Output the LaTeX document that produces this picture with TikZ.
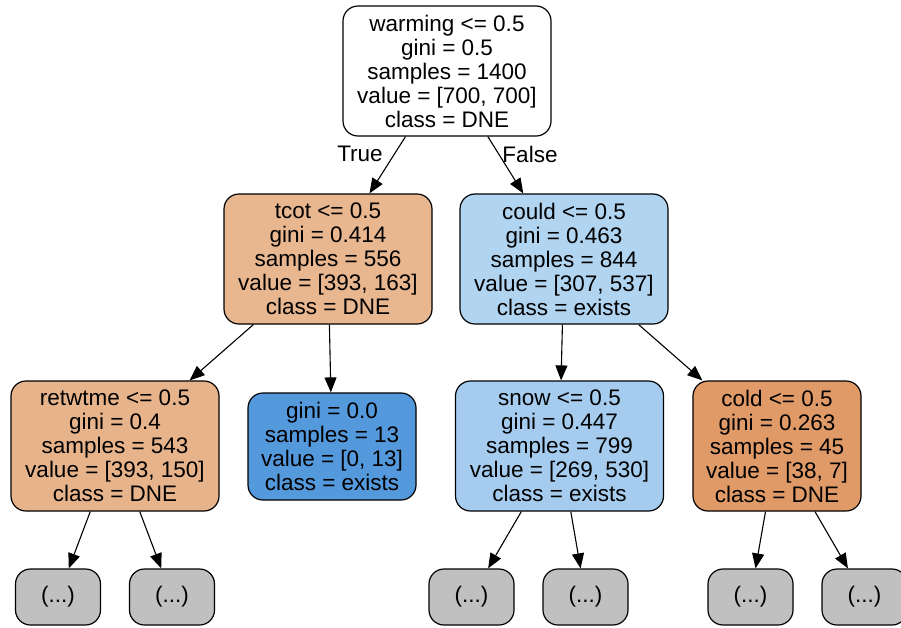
\documentclass[tikz,border=0pt]{standalone}
\usepackage{fontspec}
\setmainfont{Liberation Sans}
\usetikzlibrary{arrows.meta}
\definecolor{dneA}{HTML}{E8B68F}
\definecolor{dneB}{HTML}{E7B38B}
\definecolor{dneC}{HTML}{E09A68}
\definecolor{exA}{HTML}{B1D4F1}
\definecolor{exB}{HTML}{A5CCEF}
\definecolor{exC}{HTML}{5599DD}
\definecolor{leafgray}{HTML}{C0C0C0}
\begin{document}
\begin{tikzpicture}[x=1pt,y=-1pt,
  tnode/.style={draw=black,line width=1.2pt,rounded corners=15pt,align=center,inner sep=0pt,
    font=\fontsize{22.5}{24}\selectfont, minimum height=130pt, minimum width=208pt},
  smallnode/.style={tnode,minimum height=107pt,minimum width=168pt},
  leafnode/.style={tnode,fill=leafgray,minimum height=56pt,minimum width=85pt},
  edge/.style={line width=1.1pt,-{Triangle[length=15pt,width=12pt]}},
  elabel/.style={font=\fontsize{22.5}{24}\selectfont}]
\fill[white] (0,0) rectangle (901,627);
\useasboundingbox (0,0) rectangle (901,627);
\node[tnode,fill=white] (root) at (447,71) {warming <= 0.5\\gini = 0.5\\samples = 1400\\value = [700, 700]\\class = DNE};
\node[tnode,fill=dneA] (tcot) at (328,259) {tcot <= 0.5\\gini = 0.414\\samples = 556\\value = [393, 163]\\class = DNE};
\node[tnode,fill=exA] (could) at (564,259) {could <= 0.5\\gini = 0.463\\samples = 844\\value = [307, 537]\\class = exists};
\node[tnode,fill=dneB] (retw) at (115,446) {retwtme <= 0.5\\gini = 0.4\\samples = 543\\value = [393, 150]\\class = DNE};
\node[smallnode,fill=exC] (pure) at (332,446.5) {gini = 0.0\\samples = 13\\value = [0, 13]\\class = exists};
\node[tnode,fill=exB] (snow) at (559.5,446) {snow <= 0.5\\gini = 0.447\\samples = 799\\value = [269, 530]\\class = exists};
\node[smallnode,fill=dneC,minimum height=130pt] (cold) at (777,446) {cold <= 0.5\\gini = 0.263\\samples = 45\\value = [38, 7]\\class = DNE};
\node[leafnode] (l1) at (58,597) {(...)};
\node[leafnode] (l2) at (172,597) {(...)};
\node[leafnode] (l3) at (471.5,597) {(...)};
\node[leafnode] (l4) at (585.5,597) {(...)};
\node[leafnode] (l5) at (750.5,597) {(...)};
\node[leafnode] (l6) at (864.5,597) {(...)};
\draw[edge] (root) -- (tcot);
\draw[edge] (root) -- (could);
\draw[edge] (tcot) -- (retw);
\draw[edge] (tcot) -- (pure);
\draw[edge] (could) -- (snow);
\draw[edge] (could) -- (cold);
\draw[edge] (retw) -- (l1);
\draw[edge] (retw) -- (l2);
\draw[edge] (snow) -- (l3);
\draw[edge] (snow) -- (l4);
\draw[edge] (cold) -- (l5);
\draw[edge] (cold) -- (l6);
\node[elabel] (tl) at (360,154) {True};
\node[elabel] (fl) at (530,154) {False};
\end{tikzpicture}
\end{document}
